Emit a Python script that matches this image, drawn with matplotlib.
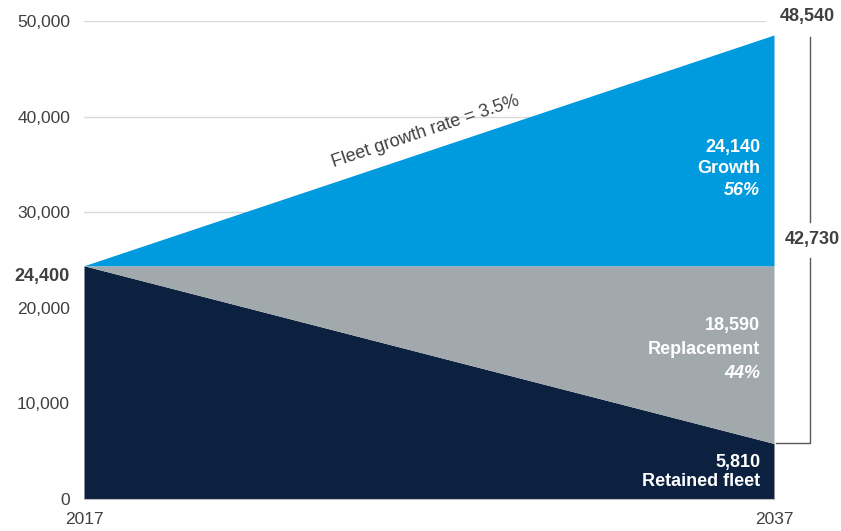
import matplotlib.pyplot as plt
import numpy as np

plt.rcParams['font.family'] = ['Liberation Sans', 'DejaVu Sans']

years = [2017, 2037]
retained = [24400, 5810]
replacement = [0, 18590]
growth = [0, 24140]
yticks = [0, 10000, 20000, 30000, 40000, 50000]

navy = '#0c2140'
grey = '#a2a9ad'
blue = '#009ade'
text_col = '#404040'

retained = np.array(retained)
base = retained + np.array(replacement)
total = base + np.array(growth)
new_total = total[1] - retained[1]

fig = plt.figure(figsize=(8.41, 5.31), dpi=100)
ax = fig.add_axes([84 / 841, 32 / 531, 690 / 841, 478 / 531])

ax.set_xlim(years[0], years[1])
ax.set_ylim(0, 50000)

# grid lines, mostly hidden behind the fill
for y in yticks[1:]:
    ax.plot([years[0], years[0] + (years[1] - years[0]) * 0.987], [y, y],
            color='#d9d9d9', lw=1, zorder=0)

ax.fill_between(years, 0, retained, color=navy, lw=0, zorder=2)
ax.fill_between(years, retained, base, color=grey, lw=0, zorder=2)
ax.fill_between(years, base, total, color=blue, lw=0, zorder=2)

for s in ['top', 'right', 'left']:
    ax.spines[s].set_visible(False)
ax.spines['bottom'].set_color('#bfbfbf')
ax.spines['bottom'].set_zorder(3)

ax.set_yticks(yticks)
ax.set_yticklabels([f'{v:,}' for v in yticks], fontsize=12.5, color=text_col)
ax.set_xticks(years)
ax.set_xticklabels([str(y) for y in years], fontsize=12.5, color=text_col)
ax.tick_params(axis='y', length=0, pad=10)
ax.tick_params(axis='x', length=0, pad=9)

# start value on the left
ax.annotate(f'{retained[0]:,}', xy=(years[0], retained[0]), xytext=(-10, -8),
            textcoords='offset points', ha='right', va='center',
            fontsize=13, fontweight='bold', color=text_col, annotation_clip=False)

# total value at the top right
ax.annotate(f'{total[1]:,}', xy=(years[1], total[1]), xytext=(24, 13),
            textcoords='offset points', ha='center', va='center',
            fontsize=13, fontweight='bold', color=text_col, annotation_clip=False)

# bracket for new deliveries
xb = years[1] + 1.04
mid = 27100
ax.plot([xb, xb], [total[1] - 200, mid + 1850], color='#595959', lw=1, clip_on=False)
ax.plot([xb, xb, years[1] + 0.05], [mid - 1850, retained[1], retained[1]],
        color='#595959', lw=1, clip_on=False)
ax.annotate(f'{new_total:,}', xy=(1.0, mid), xycoords=('figure fraction', 'data'),
            xytext=(-1, 0), textcoords='offset points', ha='right', va='center',
            fontsize=13, fontweight='bold', color=text_col, annotation_clip=False)

# segment labels
lx = years[1] - 0.4
kw = dict(ha='right', va='center', fontsize=13, fontweight='bold', color='white')
ax.text(lx, 36800, f'{growth[1]:,}', **kw)
ax.text(lx, 34600, 'Growth', **kw)
ax.text(lx, 32300, f'{growth[1] / new_total:.0%}', style='italic', **kw)
ax.text(lx, 18200, f'{replacement[1]:,}', **kw)
ax.text(lx, 15600, 'Replacement', **kw)
ax.text(lx, 13100, f'{replacement[1] / new_total:.0%}', style='italic', **kw)
ax.text(lx, 3870, f'{retained[1]:,}', **kw)
ax.text(lx, 1880, 'Retained fleet', **kw)

# growth rate along the top edge
ang = np.degrees(np.arctan2(231, 690))
ax.text(2026.9, 38400, 'Fleet growth rate = 3.5%', rotation=ang,
        rotation_mode='anchor', ha='center', va='center', fontsize=13, color=text_col)

fig.savefig('out.png', dpi=100)
